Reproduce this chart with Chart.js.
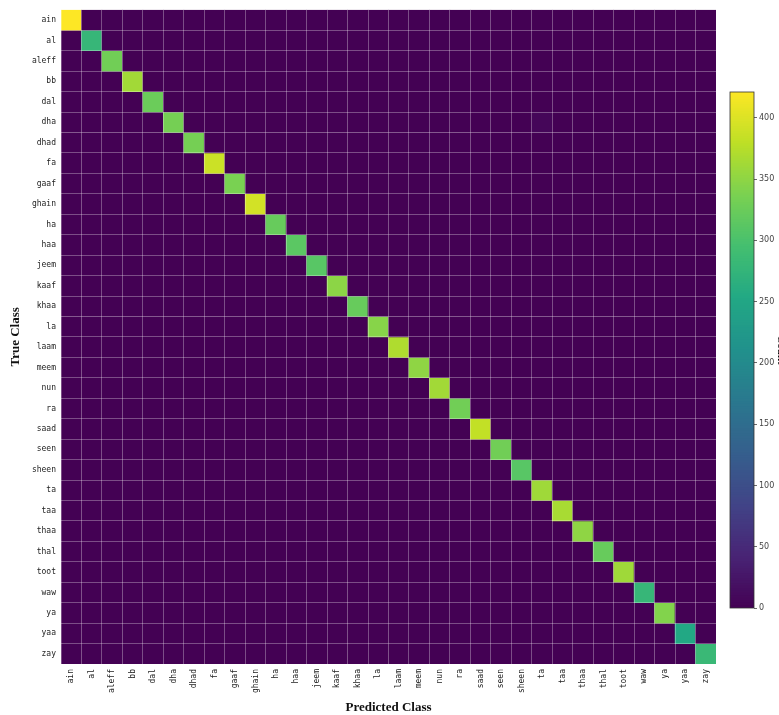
<!DOCTYPE html>
<html>
<head>
<meta charset="utf-8">
<script src="https://cdn.jsdelivr.net/npm/chart.js@4.4.1/dist/chart.umd.min.js"></script>
<style>
  html, body { margin: 0; padding: 0; background: #fff; overflow: hidden; }
  #wrap { position: relative; width: 779px; height: 715px; overflow: hidden; }
  #cm { position: absolute; left: 0; top: 0; }
  #cbar { position: absolute; left: 722px; top: 0; }
</style>
</head>
<body>
<div id="wrap">
  <canvas id="cm" width="779" height="715"></canvas>
  <canvas id="cbar" width="80" height="715"></canvas>
</div>
<script>
// class names (rows = true class, columns = predicted class)
const classes = ['ain', 'al', 'aleff', 'bb', 'dal', 'dha', 'dhad', 'fa', 'gaaf', 'ghain',
  'ha', 'haa', 'jeem', 'kaaf', 'khaa', 'la', 'laam', 'meem', 'nun', 'ra', 'saad', 'seen',
  'sheen', 'ta', 'taa', 'thaa', 'thal', 'toot', 'waw', 'ya', 'yaa', 'zay'];

// correct predictions (diagonal)
const diagonal = [421, 278, 330, 362, 325, 333, 333, 388, 336, 393,
  322, 313, 310, 348, 322, 345, 370, 350, 362, 330, 382, 330,
  310, 360, 366, 350, 322, 360, 278, 342, 252, 282];

// the few visible mistakes: [true, predicted, count]
const mistakes = [['dha', 'ta', 6]];

const cbarTicks = [0, 50, 100, 150, 200, 250, 300, 350, 400];
const vmax = 421;

// build the matrix
const matrix = classes.map((c, r) => classes.map((d, col) => (r === col ? diagonal[r] : 0)));
mistakes.forEach(([t, p, n]) => { matrix[classes.indexOf(t)][classes.indexOf(p)] = n; });

// viridis
const VIR = ['#440154', '#482475', '#414487', '#355f8d', '#2a788e', '#21918c',
  '#22a884', '#44bf70', '#7ad151', '#bddf26', '#fde725'];
function hex(h) { return [1, 3, 5].map(i => parseInt(h.substr(i, 2), 16)); }
function viridis(t) {
  t = Math.max(0, Math.min(1, t));
  const p = t * (VIR.length - 1);
  const i = Math.min(Math.floor(p), VIR.length - 2);
  const f = p - i;
  const a = hex(VIR[i]), b = hex(VIR[i + 1]);
  const c = a.map((v, k) => Math.round(v + (b[k] - v) * f));
  return 'rgb(' + c.join(',') + ')';
}

const gridColor = 'rgba(255,255,255,0.3)';
const tickFont = { family: '"DejaVu Sans Mono", monospace', size: 8 };
const titleFont = { family: '"Liberation Serif", "DejaVu Serif", serif', size: 13, weight: 'bold' };

const rows = classes.map((c, r) => ({
  label: c,
  data: classes.map(() => [r, r + 1]),
  backgroundColor: classes.map((d, col) => viridis(matrix[r][col] / vmax)),
  borderWidth: 0,
  grouped: false,
  barPercentage: 1,
  categoryPercentage: 1
}));

new Chart(document.getElementById('cm'), {
  type: 'bar',
  data: { labels: classes, datasets: rows },
  options: {
    responsive: false,
    devicePixelRatio: 1,
    animation: false,
    layout: { padding: { top: 6, right: 63, left: 0, bottom: 0 } },
    plugins: { legend: { display: false }, tooltip: { enabled: false } },
    scales: {
      x: {
        type: 'category',
        offset: true,
        grid: { color: gridColor, lineWidth: 1, offset: true, drawTicks: false, z: 1 },
        border: { display: false },
        ticks: { autoSkip: false, minRotation: 90, maxRotation: 90, padding: 5, color: '#222', font: tickFont },
        title: { display: true, text: 'Predicted Class', color: '#111', font: titleFont, padding: { top: 2, bottom: 0 } },
        afterFit: s => { s.height = 51; }
      },
      y: {
        type: 'linear',
        min: 0,
        max: 32,
        reverse: true,
        afterBuildTicks: s => { s.ticks = classes.map((c, i) => ({ value: i + 0.5 })); },
        grid: { color: gridColor, lineWidth: 1, offset: true, drawTicks: false, z: 1 },
        border: { display: false },
        ticks: { autoSkip: false, padding: 5, color: '#222', font: tickFont, callback: (v, i) => classes[i] },
        title: { display: true, text: 'True Class', color: '#111', font: titleFont, padding: { top: 8, bottom: 0 } },
        afterFit: s => { s.width = 61; }
      }
    }
  }
});

// colour bar: stacked from the top down so no seams show
const steps = 210;
const cbarSets = [];
for (let i = 1; i <= steps; i++) {
  const top = vmax * i / steps;
  cbarSets.push({
    data: [top],
    backgroundColor: viridis((i - 0.5) / steps),
    borderWidth: 0,
    grouped: false,
    barPercentage: 1,
    categoryPercentage: 1
  });
}

const outline = {
  id: 'outline',
  afterDraw(chart) {
    const a = chart.chartArea, ctx = chart.ctx;
    ctx.save();
    ctx.strokeStyle = '#333';
    ctx.lineWidth = 0.8;
    ctx.strokeRect(a.left, a.top, a.right - a.left, a.bottom - a.top);
    ctx.restore();
  }
};

new Chart(document.getElementById('cbar'), {
  type: 'bar',
  data: { labels: [''], datasets: cbarSets },
  options: {
    responsive: false,
    devicePixelRatio: 1,
    animation: false,
    layout: { padding: { top: 92, bottom: 107, left: 8, right: 8 } },
    plugins: { legend: { display: false }, tooltip: { enabled: false } },
    scales: {
      x: { display: false },
      y: {
        position: 'right',
        min: 0,
        max: vmax,
        afterBuildTicks: s => { s.ticks = cbarTicks.map(v => ({ value: v })); },
        grid: { drawOnChartArea: false, tickLength: 3, color: '#444', lineWidth: 0.8 },
        border: { display: false },
        ticks: { padding: 2, color: '#444', font: { family: '"DejaVu Sans", sans-serif', size: 8 } },
        title: { display: true, text: 'Count', color: '#111', font: { family: '"Liberation Serif", serif', size: 11, weight: 'bold' }, padding: { top: 6.6 } },
        afterFit: s => { s.width = 40; }
      }
    }
  },
  plugins: [outline]
});
</script>
</body>
</html>
